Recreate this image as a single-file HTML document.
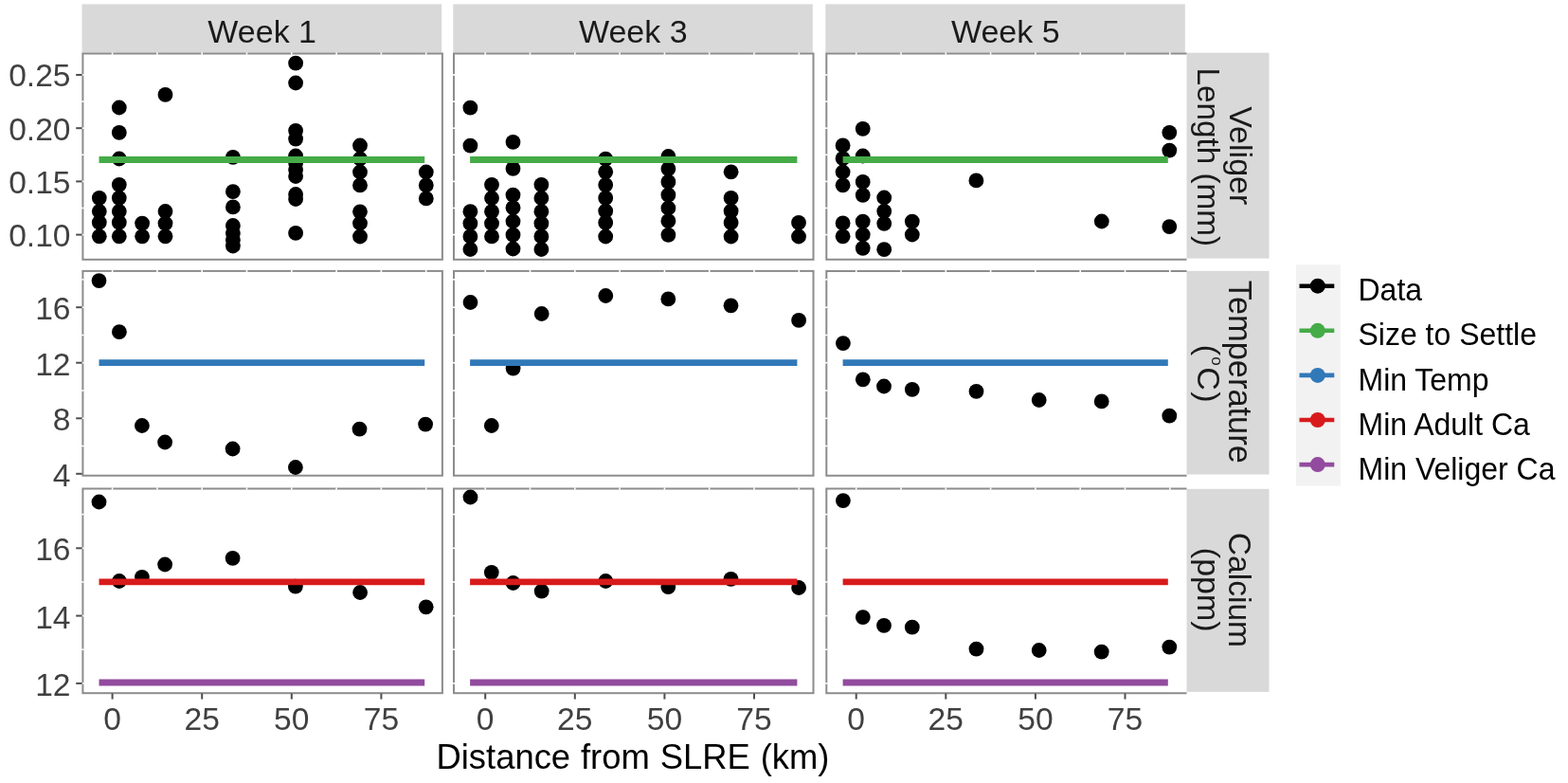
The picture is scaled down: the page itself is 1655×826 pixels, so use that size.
<!DOCTYPE html>
<html><head><meta charset="utf-8"><title>Veliger facet plot</title>
<style>html,body{margin:0;padding:0;background:#fff;}svg{display:block;}</style>
</head><body>
<svg width="1655" height="826" viewBox="0 0 1655 826" font-family='"Liberation Sans", Arial, Helvetica, sans-serif'>
<rect x="0" y="0" width="1655" height="826" fill="#ffffff"/>
<rect x="86.5" y="4.4" width="379.7" height="51.2" fill="#d9d9d9"/>
<rect x="478.3" y="4.4" width="379.5" height="51.2" fill="#d9d9d9"/>
<rect x="871.3" y="4.4" width="379.5" height="51.2" fill="#d9d9d9"/>
<rect x="1251.5" y="55.7" width="88" height="216.9" fill="#d9d9d9"/>
<rect x="1251.5" y="285.8" width="88" height="214.7" fill="#d9d9d9"/>
<rect x="1251.5" y="515.8" width="88" height="214.1" fill="#d9d9d9"/>
<rect x="87.4" y="56.5" width="379.5" height="217.3" fill="#ffffff" stroke="#8c8c8c" stroke-width="2.0"/>
<line x1="118.6" y1="55.3" x2="118.6" y2="57.7" stroke="#ffffff" stroke-width="1.6"/>
<line x1="165.9" y1="55.3" x2="165.9" y2="57.7" stroke="#ffffff" stroke-width="1.6"/>
<line x1="213.2" y1="55.3" x2="213.2" y2="57.7" stroke="#ffffff" stroke-width="1.6"/>
<line x1="260.5" y1="55.3" x2="260.5" y2="57.7" stroke="#ffffff" stroke-width="1.6"/>
<line x1="307.8" y1="55.3" x2="307.8" y2="57.7" stroke="#ffffff" stroke-width="1.6"/>
<line x1="355.1" y1="55.3" x2="355.1" y2="57.7" stroke="#ffffff" stroke-width="1.6"/>
<line x1="402.4" y1="55.3" x2="402.4" y2="57.7" stroke="#ffffff" stroke-width="1.6"/>
<line x1="449.7" y1="55.3" x2="449.7" y2="57.7" stroke="#ffffff" stroke-width="1.6"/>
<line x1="86.2" y1="79.0" x2="88.60000000000001" y2="79.0" stroke="#ffffff" stroke-width="1.6"/>
<line x1="86.2" y1="135.2" x2="88.60000000000001" y2="135.2" stroke="#ffffff" stroke-width="1.6"/>
<line x1="86.2" y1="191.4" x2="88.60000000000001" y2="191.4" stroke="#ffffff" stroke-width="1.6"/>
<line x1="86.2" y1="247.6" x2="88.60000000000001" y2="247.6" stroke="#ffffff" stroke-width="1.6"/>
<line x1="86.2" y1="107.1" x2="88.60000000000001" y2="107.1" stroke="#ffffff" stroke-width="1.6"/>
<line x1="86.2" y1="163.3" x2="88.60000000000001" y2="163.3" stroke="#ffffff" stroke-width="1.6"/>
<line x1="86.2" y1="219.5" x2="88.60000000000001" y2="219.5" stroke="#ffffff" stroke-width="1.6"/>
<circle cx="104.8" cy="208.8" r="7.9" fill="#000"/>
<circle cx="104.8" cy="223" r="7.9" fill="#000"/>
<circle cx="104.8" cy="234.7" r="7.9" fill="#000"/>
<circle cx="104.8" cy="249.3" r="7.9" fill="#000"/>
<circle cx="125.8" cy="113.5" r="7.9" fill="#000"/>
<circle cx="125.8" cy="139.9" r="7.9" fill="#000"/>
<circle cx="125.8" cy="167.5" r="7.9" fill="#000"/>
<circle cx="125.8" cy="194.8" r="7.9" fill="#000"/>
<circle cx="125.8" cy="208.8" r="7.9" fill="#000"/>
<circle cx="125.8" cy="223" r="7.9" fill="#000"/>
<circle cx="125.8" cy="234.7" r="7.9" fill="#000"/>
<circle cx="125.8" cy="249.3" r="7.9" fill="#000"/>
<circle cx="150.1" cy="235.6" r="7.9" fill="#000"/>
<circle cx="150.1" cy="249.3" r="7.9" fill="#000"/>
<circle cx="174.5" cy="99.9" r="7.9" fill="#000"/>
<circle cx="174.5" cy="223" r="7.9" fill="#000"/>
<circle cx="174.5" cy="235.6" r="7.9" fill="#000"/>
<circle cx="174.5" cy="249.3" r="7.9" fill="#000"/>
<circle cx="245.9" cy="165.8" r="7.9" fill="#000"/>
<circle cx="245.9" cy="202.2" r="7.9" fill="#000"/>
<circle cx="245.9" cy="218.4" r="7.9" fill="#000"/>
<circle cx="245.9" cy="238" r="7.9" fill="#000"/>
<circle cx="245.9" cy="246" r="7.9" fill="#000"/>
<circle cx="245.9" cy="253" r="7.9" fill="#000"/>
<circle cx="245.9" cy="259.5" r="7.9" fill="#000"/>
<circle cx="312.1" cy="66.7" r="7.9" fill="#000"/>
<circle cx="312.1" cy="87.5" r="7.9" fill="#000"/>
<circle cx="312.1" cy="137.8" r="7.9" fill="#000"/>
<circle cx="312.1" cy="146.6" r="7.9" fill="#000"/>
<circle cx="312.1" cy="164.5" r="7.9" fill="#000"/>
<circle cx="312.1" cy="172" r="7.9" fill="#000"/>
<circle cx="312.1" cy="179" r="7.9" fill="#000"/>
<circle cx="312.1" cy="186" r="7.9" fill="#000"/>
<circle cx="312.1" cy="205" r="7.9" fill="#000"/>
<circle cx="312.1" cy="210" r="7.9" fill="#000"/>
<circle cx="312.1" cy="245.9" r="7.9" fill="#000"/>
<circle cx="380.0" cy="153.5" r="7.9" fill="#000"/>
<circle cx="380.0" cy="167.5" r="7.9" fill="#000"/>
<circle cx="380.0" cy="181.5" r="7.9" fill="#000"/>
<circle cx="380.0" cy="195.4" r="7.9" fill="#000"/>
<circle cx="380.0" cy="223.3" r="7.9" fill="#000"/>
<circle cx="380.0" cy="235.5" r="7.9" fill="#000"/>
<circle cx="380.0" cy="249.5" r="7.9" fill="#000"/>
<circle cx="449.8" cy="181.5" r="7.9" fill="#000"/>
<circle cx="449.8" cy="195.4" r="7.9" fill="#000"/>
<circle cx="449.8" cy="209.4" r="7.9" fill="#000"/>
<line x1="104.5" y1="168.5" x2="448.2" y2="168.5" stroke="#45ab47" stroke-width="6.8"/>
<rect x="479.0" y="56.5" width="379.5" height="217.3" fill="#ffffff" stroke="#8c8c8c" stroke-width="2.0"/>
<line x1="512.2" y1="55.3" x2="512.2" y2="57.7" stroke="#ffffff" stroke-width="1.6"/>
<line x1="559.5" y1="55.3" x2="559.5" y2="57.7" stroke="#ffffff" stroke-width="1.6"/>
<line x1="606.8" y1="55.3" x2="606.8" y2="57.7" stroke="#ffffff" stroke-width="1.6"/>
<line x1="654.1" y1="55.3" x2="654.1" y2="57.7" stroke="#ffffff" stroke-width="1.6"/>
<line x1="701.4" y1="55.3" x2="701.4" y2="57.7" stroke="#ffffff" stroke-width="1.6"/>
<line x1="748.7" y1="55.3" x2="748.7" y2="57.7" stroke="#ffffff" stroke-width="1.6"/>
<line x1="796.0" y1="55.3" x2="796.0" y2="57.7" stroke="#ffffff" stroke-width="1.6"/>
<line x1="843.3" y1="55.3" x2="843.3" y2="57.7" stroke="#ffffff" stroke-width="1.6"/>
<line x1="477.8" y1="79.0" x2="480.2" y2="79.0" stroke="#ffffff" stroke-width="1.6"/>
<line x1="477.8" y1="135.2" x2="480.2" y2="135.2" stroke="#ffffff" stroke-width="1.6"/>
<line x1="477.8" y1="191.4" x2="480.2" y2="191.4" stroke="#ffffff" stroke-width="1.6"/>
<line x1="477.8" y1="247.6" x2="480.2" y2="247.6" stroke="#ffffff" stroke-width="1.6"/>
<line x1="477.8" y1="107.1" x2="480.2" y2="107.1" stroke="#ffffff" stroke-width="1.6"/>
<line x1="477.8" y1="163.3" x2="480.2" y2="163.3" stroke="#ffffff" stroke-width="1.6"/>
<line x1="477.8" y1="219.5" x2="480.2" y2="219.5" stroke="#ffffff" stroke-width="1.6"/>
<circle cx="496.4" cy="113.7" r="7.9" fill="#000"/>
<circle cx="496.4" cy="153.6" r="7.9" fill="#000"/>
<circle cx="496.4" cy="223.2" r="7.9" fill="#000"/>
<circle cx="496.4" cy="235.7" r="7.9" fill="#000"/>
<circle cx="496.4" cy="249.4" r="7.9" fill="#000"/>
<circle cx="496.4" cy="263" r="7.9" fill="#000"/>
<circle cx="519.0" cy="194.8" r="7.9" fill="#000"/>
<circle cx="519.0" cy="209" r="7.9" fill="#000"/>
<circle cx="519.0" cy="223.2" r="7.9" fill="#000"/>
<circle cx="519.0" cy="235.7" r="7.9" fill="#000"/>
<circle cx="519.0" cy="249.4" r="7.9" fill="#000"/>
<circle cx="541.5" cy="149.9" r="7.9" fill="#000"/>
<circle cx="541.5" cy="177.9" r="7.9" fill="#000"/>
<circle cx="541.5" cy="205.6" r="7.9" fill="#000"/>
<circle cx="541.5" cy="219.2" r="7.9" fill="#000"/>
<circle cx="541.5" cy="233.5" r="7.9" fill="#000"/>
<circle cx="541.5" cy="247.7" r="7.9" fill="#000"/>
<circle cx="541.5" cy="262.5" r="7.9" fill="#000"/>
<circle cx="571.4" cy="194.8" r="7.9" fill="#000"/>
<circle cx="571.4" cy="209" r="7.9" fill="#000"/>
<circle cx="571.4" cy="223.2" r="7.9" fill="#000"/>
<circle cx="571.4" cy="235.7" r="7.9" fill="#000"/>
<circle cx="571.4" cy="249.4" r="7.9" fill="#000"/>
<circle cx="571.4" cy="263" r="7.9" fill="#000"/>
<circle cx="639.2" cy="167.6" r="7.9" fill="#000"/>
<circle cx="639.2" cy="181.3" r="7.9" fill="#000"/>
<circle cx="639.2" cy="195.1" r="7.9" fill="#000"/>
<circle cx="639.2" cy="208.9" r="7.9" fill="#000"/>
<circle cx="639.2" cy="222.7" r="7.9" fill="#000"/>
<circle cx="639.2" cy="234.9" r="7.9" fill="#000"/>
<circle cx="639.2" cy="249.5" r="7.9" fill="#000"/>
<circle cx="705.4" cy="165" r="7.9" fill="#000"/>
<circle cx="705.4" cy="178.1" r="7.9" fill="#000"/>
<circle cx="705.4" cy="191.9" r="7.9" fill="#000"/>
<circle cx="705.4" cy="205.7" r="7.9" fill="#000"/>
<circle cx="705.4" cy="219.5" r="7.9" fill="#000"/>
<circle cx="705.4" cy="233.2" r="7.9" fill="#000"/>
<circle cx="705.4" cy="247.8" r="7.9" fill="#000"/>
<circle cx="771.6" cy="181.3" r="7.9" fill="#000"/>
<circle cx="771.6" cy="208.9" r="7.9" fill="#000"/>
<circle cx="771.6" cy="222.7" r="7.9" fill="#000"/>
<circle cx="771.6" cy="234.9" r="7.9" fill="#000"/>
<circle cx="771.6" cy="249.5" r="7.9" fill="#000"/>
<circle cx="843.0" cy="234.9" r="7.9" fill="#000"/>
<circle cx="843.0" cy="249.5" r="7.9" fill="#000"/>
<line x1="496.1" y1="168.5" x2="841.4" y2="168.5" stroke="#45ab47" stroke-width="6.8"/>
<path d="M1252.5,56.5 H872.3 V273.8 H1252.5" fill="#ffffff" stroke="#8c8c8c" stroke-width="2.0"/>
<line x1="903.7" y1="55.3" x2="903.7" y2="57.7" stroke="#ffffff" stroke-width="1.6"/>
<line x1="951.0" y1="55.3" x2="951.0" y2="57.7" stroke="#ffffff" stroke-width="1.6"/>
<line x1="998.3" y1="55.3" x2="998.3" y2="57.7" stroke="#ffffff" stroke-width="1.6"/>
<line x1="1045.6" y1="55.3" x2="1045.6" y2="57.7" stroke="#ffffff" stroke-width="1.6"/>
<line x1="1092.9" y1="55.3" x2="1092.9" y2="57.7" stroke="#ffffff" stroke-width="1.6"/>
<line x1="1140.2" y1="55.3" x2="1140.2" y2="57.7" stroke="#ffffff" stroke-width="1.6"/>
<line x1="1187.5" y1="55.3" x2="1187.5" y2="57.7" stroke="#ffffff" stroke-width="1.6"/>
<line x1="1234.8" y1="55.3" x2="1234.8" y2="57.7" stroke="#ffffff" stroke-width="1.6"/>
<line x1="871.0999999999999" y1="79.0" x2="873.5" y2="79.0" stroke="#ffffff" stroke-width="1.6"/>
<line x1="871.0999999999999" y1="135.2" x2="873.5" y2="135.2" stroke="#ffffff" stroke-width="1.6"/>
<line x1="871.0999999999999" y1="191.4" x2="873.5" y2="191.4" stroke="#ffffff" stroke-width="1.6"/>
<line x1="871.0999999999999" y1="247.6" x2="873.5" y2="247.6" stroke="#ffffff" stroke-width="1.6"/>
<line x1="871.0999999999999" y1="107.1" x2="873.5" y2="107.1" stroke="#ffffff" stroke-width="1.6"/>
<line x1="871.0999999999999" y1="163.3" x2="873.5" y2="163.3" stroke="#ffffff" stroke-width="1.6"/>
<line x1="871.0999999999999" y1="219.5" x2="873.5" y2="219.5" stroke="#ffffff" stroke-width="1.6"/>
<circle cx="889.6" cy="153.4" r="7.9" fill="#000"/>
<circle cx="889.6" cy="167.2" r="7.9" fill="#000"/>
<circle cx="889.6" cy="181.5" r="7.9" fill="#000"/>
<circle cx="889.6" cy="195.3" r="7.9" fill="#000"/>
<circle cx="889.6" cy="235.4" r="7.9" fill="#000"/>
<circle cx="889.6" cy="249.3" r="7.9" fill="#000"/>
<circle cx="910.7" cy="135.8" r="7.9" fill="#000"/>
<circle cx="910.7" cy="164.5" r="7.9" fill="#000"/>
<circle cx="910.7" cy="191.9" r="7.9" fill="#000"/>
<circle cx="910.7" cy="205.8" r="7.9" fill="#000"/>
<circle cx="910.7" cy="233.6" r="7.9" fill="#000"/>
<circle cx="910.7" cy="247.5" r="7.9" fill="#000"/>
<circle cx="910.7" cy="261.8" r="7.9" fill="#000"/>
<circle cx="933.2" cy="208.5" r="7.9" fill="#000"/>
<circle cx="933.2" cy="222.8" r="7.9" fill="#000"/>
<circle cx="933.2" cy="235.8" r="7.9" fill="#000"/>
<circle cx="933.2" cy="263.2" r="7.9" fill="#000"/>
<circle cx="962.8" cy="233.6" r="7.9" fill="#000"/>
<circle cx="962.8" cy="247.5" r="7.9" fill="#000"/>
<circle cx="1030.4" cy="190.4" r="7.9" fill="#000"/>
<circle cx="1162.8" cy="233.5" r="7.9" fill="#000"/>
<circle cx="1234.3" cy="139.8" r="7.9" fill="#000"/>
<circle cx="1234.3" cy="158.6" r="7.9" fill="#000"/>
<circle cx="1234.3" cy="239.1" r="7.9" fill="#000"/>
<line x1="889.6" y1="168.5" x2="1232.8" y2="168.5" stroke="#45ab47" stroke-width="6.8"/>
<rect x="87.4" y="285.9" width="379.5" height="215.8" fill="#ffffff" stroke="#8c8c8c" stroke-width="2.0"/>
<line x1="118.6" y1="284.7" x2="118.6" y2="287.09999999999997" stroke="#ffffff" stroke-width="1.6"/>
<line x1="165.9" y1="284.7" x2="165.9" y2="287.09999999999997" stroke="#ffffff" stroke-width="1.6"/>
<line x1="213.2" y1="284.7" x2="213.2" y2="287.09999999999997" stroke="#ffffff" stroke-width="1.6"/>
<line x1="260.5" y1="284.7" x2="260.5" y2="287.09999999999997" stroke="#ffffff" stroke-width="1.6"/>
<line x1="307.8" y1="284.7" x2="307.8" y2="287.09999999999997" stroke="#ffffff" stroke-width="1.6"/>
<line x1="355.1" y1="284.7" x2="355.1" y2="287.09999999999997" stroke="#ffffff" stroke-width="1.6"/>
<line x1="402.4" y1="284.7" x2="402.4" y2="287.09999999999997" stroke="#ffffff" stroke-width="1.6"/>
<line x1="449.7" y1="284.7" x2="449.7" y2="287.09999999999997" stroke="#ffffff" stroke-width="1.6"/>
<line x1="86.2" y1="324.2" x2="88.60000000000001" y2="324.2" stroke="#ffffff" stroke-width="1.6"/>
<line x1="86.2" y1="382.7" x2="88.60000000000001" y2="382.7" stroke="#ffffff" stroke-width="1.6"/>
<line x1="86.2" y1="441.3" x2="88.60000000000001" y2="441.3" stroke="#ffffff" stroke-width="1.6"/>
<line x1="86.2" y1="294.9" x2="88.60000000000001" y2="294.9" stroke="#ffffff" stroke-width="1.6"/>
<line x1="86.2" y1="353.5" x2="88.60000000000001" y2="353.5" stroke="#ffffff" stroke-width="1.6"/>
<line x1="86.2" y1="412.0" x2="88.60000000000001" y2="412.0" stroke="#ffffff" stroke-width="1.6"/>
<line x1="86.2" y1="470.5" x2="88.60000000000001" y2="470.5" stroke="#ffffff" stroke-width="1.6"/>
<circle cx="104.5" cy="296.1" r="7.9" fill="#000"/>
<circle cx="125.9" cy="350.2" r="7.9" fill="#000"/>
<circle cx="149.9" cy="449" r="7.9" fill="#000"/>
<circle cx="174.1" cy="466.5" r="7.9" fill="#000"/>
<circle cx="245.6" cy="473.5" r="7.9" fill="#000"/>
<circle cx="311.9" cy="493" r="7.9" fill="#000"/>
<circle cx="379.5" cy="452.6" r="7.9" fill="#000"/>
<circle cx="449.1" cy="447.6" r="7.9" fill="#000"/>
<line x1="104.5" y1="382.6" x2="448.2" y2="382.6" stroke="#3178b8" stroke-width="6.8"/>
<rect x="479.0" y="285.9" width="379.5" height="215.8" fill="#ffffff" stroke="#8c8c8c" stroke-width="2.0"/>
<line x1="512.2" y1="284.7" x2="512.2" y2="287.09999999999997" stroke="#ffffff" stroke-width="1.6"/>
<line x1="559.5" y1="284.7" x2="559.5" y2="287.09999999999997" stroke="#ffffff" stroke-width="1.6"/>
<line x1="606.8" y1="284.7" x2="606.8" y2="287.09999999999997" stroke="#ffffff" stroke-width="1.6"/>
<line x1="654.1" y1="284.7" x2="654.1" y2="287.09999999999997" stroke="#ffffff" stroke-width="1.6"/>
<line x1="701.4" y1="284.7" x2="701.4" y2="287.09999999999997" stroke="#ffffff" stroke-width="1.6"/>
<line x1="748.7" y1="284.7" x2="748.7" y2="287.09999999999997" stroke="#ffffff" stroke-width="1.6"/>
<line x1="796.0" y1="284.7" x2="796.0" y2="287.09999999999997" stroke="#ffffff" stroke-width="1.6"/>
<line x1="843.3" y1="284.7" x2="843.3" y2="287.09999999999997" stroke="#ffffff" stroke-width="1.6"/>
<line x1="477.8" y1="324.2" x2="480.2" y2="324.2" stroke="#ffffff" stroke-width="1.6"/>
<line x1="477.8" y1="382.7" x2="480.2" y2="382.7" stroke="#ffffff" stroke-width="1.6"/>
<line x1="477.8" y1="441.3" x2="480.2" y2="441.3" stroke="#ffffff" stroke-width="1.6"/>
<line x1="477.8" y1="294.9" x2="480.2" y2="294.9" stroke="#ffffff" stroke-width="1.6"/>
<line x1="477.8" y1="353.5" x2="480.2" y2="353.5" stroke="#ffffff" stroke-width="1.6"/>
<line x1="477.8" y1="412.0" x2="480.2" y2="412.0" stroke="#ffffff" stroke-width="1.6"/>
<line x1="477.8" y1="470.5" x2="480.2" y2="470.5" stroke="#ffffff" stroke-width="1.6"/>
<circle cx="496.5" cy="319" r="7.9" fill="#000"/>
<circle cx="518.8" cy="449" r="7.9" fill="#000"/>
<circle cx="541.6" cy="388.6" r="7.9" fill="#000"/>
<circle cx="571.7" cy="331" r="7.9" fill="#000"/>
<circle cx="639.3" cy="312" r="7.9" fill="#000"/>
<circle cx="705.3" cy="315.4" r="7.9" fill="#000"/>
<circle cx="771.5" cy="322.3" r="7.9" fill="#000"/>
<circle cx="843.1" cy="337.9" r="7.9" fill="#000"/>
<line x1="496.1" y1="382.6" x2="841.4" y2="382.6" stroke="#3178b8" stroke-width="6.8"/>
<path d="M1252.5,285.9 H872.3 V501.7 H1252.5" fill="#ffffff" stroke="#8c8c8c" stroke-width="2.0"/>
<line x1="903.7" y1="284.7" x2="903.7" y2="287.09999999999997" stroke="#ffffff" stroke-width="1.6"/>
<line x1="951.0" y1="284.7" x2="951.0" y2="287.09999999999997" stroke="#ffffff" stroke-width="1.6"/>
<line x1="998.3" y1="284.7" x2="998.3" y2="287.09999999999997" stroke="#ffffff" stroke-width="1.6"/>
<line x1="1045.6" y1="284.7" x2="1045.6" y2="287.09999999999997" stroke="#ffffff" stroke-width="1.6"/>
<line x1="1092.9" y1="284.7" x2="1092.9" y2="287.09999999999997" stroke="#ffffff" stroke-width="1.6"/>
<line x1="1140.2" y1="284.7" x2="1140.2" y2="287.09999999999997" stroke="#ffffff" stroke-width="1.6"/>
<line x1="1187.5" y1="284.7" x2="1187.5" y2="287.09999999999997" stroke="#ffffff" stroke-width="1.6"/>
<line x1="1234.8" y1="284.7" x2="1234.8" y2="287.09999999999997" stroke="#ffffff" stroke-width="1.6"/>
<line x1="871.0999999999999" y1="324.2" x2="873.5" y2="324.2" stroke="#ffffff" stroke-width="1.6"/>
<line x1="871.0999999999999" y1="382.7" x2="873.5" y2="382.7" stroke="#ffffff" stroke-width="1.6"/>
<line x1="871.0999999999999" y1="441.3" x2="873.5" y2="441.3" stroke="#ffffff" stroke-width="1.6"/>
<line x1="871.0999999999999" y1="294.9" x2="873.5" y2="294.9" stroke="#ffffff" stroke-width="1.6"/>
<line x1="871.0999999999999" y1="353.5" x2="873.5" y2="353.5" stroke="#ffffff" stroke-width="1.6"/>
<line x1="871.0999999999999" y1="412.0" x2="873.5" y2="412.0" stroke="#ffffff" stroke-width="1.6"/>
<line x1="871.0999999999999" y1="470.5" x2="873.5" y2="470.5" stroke="#ffffff" stroke-width="1.6"/>
<circle cx="889.9" cy="362.1" r="7.9" fill="#000"/>
<circle cx="910.8" cy="400.3" r="7.9" fill="#000"/>
<circle cx="933.0" cy="407.5" r="7.9" fill="#000"/>
<circle cx="962.8" cy="410.8" r="7.9" fill="#000"/>
<circle cx="1030.5" cy="412.8" r="7.9" fill="#000"/>
<circle cx="1096.7" cy="422" r="7.9" fill="#000"/>
<circle cx="1162.7" cy="423.4" r="7.9" fill="#000"/>
<circle cx="1234.3" cy="438.7" r="7.9" fill="#000"/>
<line x1="889.6" y1="382.6" x2="1232.8" y2="382.6" stroke="#3178b8" stroke-width="6.8"/>
<rect x="87.4" y="515.5" width="379.5" height="215.7" fill="#ffffff" stroke="#8c8c8c" stroke-width="2.0"/>
<line x1="118.6" y1="514.3" x2="118.6" y2="516.7" stroke="#ffffff" stroke-width="1.6"/>
<line x1="165.9" y1="514.3" x2="165.9" y2="516.7" stroke="#ffffff" stroke-width="1.6"/>
<line x1="213.2" y1="514.3" x2="213.2" y2="516.7" stroke="#ffffff" stroke-width="1.6"/>
<line x1="260.5" y1="514.3" x2="260.5" y2="516.7" stroke="#ffffff" stroke-width="1.6"/>
<line x1="307.8" y1="514.3" x2="307.8" y2="516.7" stroke="#ffffff" stroke-width="1.6"/>
<line x1="355.1" y1="514.3" x2="355.1" y2="516.7" stroke="#ffffff" stroke-width="1.6"/>
<line x1="402.4" y1="514.3" x2="402.4" y2="516.7" stroke="#ffffff" stroke-width="1.6"/>
<line x1="449.7" y1="514.3" x2="449.7" y2="516.7" stroke="#ffffff" stroke-width="1.6"/>
<line x1="86.2" y1="578.3" x2="88.60000000000001" y2="578.3" stroke="#ffffff" stroke-width="1.6"/>
<line x1="86.2" y1="649.6" x2="88.60000000000001" y2="649.6" stroke="#ffffff" stroke-width="1.6"/>
<line x1="86.2" y1="720.9" x2="88.60000000000001" y2="720.9" stroke="#ffffff" stroke-width="1.6"/>
<line x1="86.2" y1="542.6" x2="88.60000000000001" y2="542.6" stroke="#ffffff" stroke-width="1.6"/>
<line x1="86.2" y1="613.9" x2="88.60000000000001" y2="613.9" stroke="#ffffff" stroke-width="1.6"/>
<line x1="86.2" y1="685.2" x2="88.60000000000001" y2="685.2" stroke="#ffffff" stroke-width="1.6"/>
<circle cx="104.5" cy="529.5" r="7.9" fill="#000"/>
<circle cx="125.9" cy="613" r="7.9" fill="#000"/>
<circle cx="149.9" cy="608.8" r="7.9" fill="#000"/>
<circle cx="174.1" cy="595.5" r="7.9" fill="#000"/>
<circle cx="245.6" cy="588.8" r="7.9" fill="#000"/>
<circle cx="311.9" cy="618.6" r="7.9" fill="#000"/>
<circle cx="380.1" cy="625" r="7.9" fill="#000"/>
<circle cx="449.7" cy="640.3" r="7.9" fill="#000"/>
<line x1="104.5" y1="613.8" x2="448.2" y2="613.8" stroke="#d81a1c" stroke-width="6.8"/>
<line x1="104.5" y1="720.0" x2="448.2" y2="720.0" stroke="#924b9e" stroke-width="6.8"/>
<rect x="479.0" y="515.5" width="379.5" height="215.7" fill="#ffffff" stroke="#8c8c8c" stroke-width="2.0"/>
<line x1="512.2" y1="514.3" x2="512.2" y2="516.7" stroke="#ffffff" stroke-width="1.6"/>
<line x1="559.5" y1="514.3" x2="559.5" y2="516.7" stroke="#ffffff" stroke-width="1.6"/>
<line x1="606.8" y1="514.3" x2="606.8" y2="516.7" stroke="#ffffff" stroke-width="1.6"/>
<line x1="654.1" y1="514.3" x2="654.1" y2="516.7" stroke="#ffffff" stroke-width="1.6"/>
<line x1="701.4" y1="514.3" x2="701.4" y2="516.7" stroke="#ffffff" stroke-width="1.6"/>
<line x1="748.7" y1="514.3" x2="748.7" y2="516.7" stroke="#ffffff" stroke-width="1.6"/>
<line x1="796.0" y1="514.3" x2="796.0" y2="516.7" stroke="#ffffff" stroke-width="1.6"/>
<line x1="843.3" y1="514.3" x2="843.3" y2="516.7" stroke="#ffffff" stroke-width="1.6"/>
<line x1="477.8" y1="578.3" x2="480.2" y2="578.3" stroke="#ffffff" stroke-width="1.6"/>
<line x1="477.8" y1="649.6" x2="480.2" y2="649.6" stroke="#ffffff" stroke-width="1.6"/>
<line x1="477.8" y1="720.9" x2="480.2" y2="720.9" stroke="#ffffff" stroke-width="1.6"/>
<line x1="477.8" y1="542.6" x2="480.2" y2="542.6" stroke="#ffffff" stroke-width="1.6"/>
<line x1="477.8" y1="613.9" x2="480.2" y2="613.9" stroke="#ffffff" stroke-width="1.6"/>
<line x1="477.8" y1="685.2" x2="480.2" y2="685.2" stroke="#ffffff" stroke-width="1.6"/>
<circle cx="496.5" cy="524.5" r="7.9" fill="#000"/>
<circle cx="518.8" cy="603.8" r="7.9" fill="#000"/>
<circle cx="541.6" cy="615" r="7.9" fill="#000"/>
<circle cx="571.7" cy="623.6" r="7.9" fill="#000"/>
<circle cx="639.3" cy="613" r="7.9" fill="#000"/>
<circle cx="705.3" cy="619.1" r="7.9" fill="#000"/>
<circle cx="771.5" cy="610.8" r="7.9" fill="#000"/>
<circle cx="843.1" cy="620" r="7.9" fill="#000"/>
<line x1="496.1" y1="613.8" x2="841.4" y2="613.8" stroke="#d81a1c" stroke-width="6.8"/>
<line x1="496.1" y1="720.0" x2="841.4" y2="720.0" stroke="#924b9e" stroke-width="6.8"/>
<path d="M1252.5,515.5 H872.3 V731.2 H1252.5" fill="#ffffff" stroke="#8c8c8c" stroke-width="2.0"/>
<line x1="903.7" y1="514.3" x2="903.7" y2="516.7" stroke="#ffffff" stroke-width="1.6"/>
<line x1="951.0" y1="514.3" x2="951.0" y2="516.7" stroke="#ffffff" stroke-width="1.6"/>
<line x1="998.3" y1="514.3" x2="998.3" y2="516.7" stroke="#ffffff" stroke-width="1.6"/>
<line x1="1045.6" y1="514.3" x2="1045.6" y2="516.7" stroke="#ffffff" stroke-width="1.6"/>
<line x1="1092.9" y1="514.3" x2="1092.9" y2="516.7" stroke="#ffffff" stroke-width="1.6"/>
<line x1="1140.2" y1="514.3" x2="1140.2" y2="516.7" stroke="#ffffff" stroke-width="1.6"/>
<line x1="1187.5" y1="514.3" x2="1187.5" y2="516.7" stroke="#ffffff" stroke-width="1.6"/>
<line x1="1234.8" y1="514.3" x2="1234.8" y2="516.7" stroke="#ffffff" stroke-width="1.6"/>
<line x1="871.0999999999999" y1="578.3" x2="873.5" y2="578.3" stroke="#ffffff" stroke-width="1.6"/>
<line x1="871.0999999999999" y1="649.6" x2="873.5" y2="649.6" stroke="#ffffff" stroke-width="1.6"/>
<line x1="871.0999999999999" y1="720.9" x2="873.5" y2="720.9" stroke="#ffffff" stroke-width="1.6"/>
<line x1="871.0999999999999" y1="542.6" x2="873.5" y2="542.6" stroke="#ffffff" stroke-width="1.6"/>
<line x1="871.0999999999999" y1="613.9" x2="873.5" y2="613.9" stroke="#ffffff" stroke-width="1.6"/>
<line x1="871.0999999999999" y1="685.2" x2="873.5" y2="685.2" stroke="#ffffff" stroke-width="1.6"/>
<circle cx="889.9" cy="528.1" r="7.9" fill="#000"/>
<circle cx="910.8" cy="651.1" r="7.9" fill="#000"/>
<circle cx="933.0" cy="659.8" r="7.9" fill="#000"/>
<circle cx="962.8" cy="661.7" r="7.9" fill="#000"/>
<circle cx="1030.5" cy="684.6" r="7.9" fill="#000"/>
<circle cx="1096.7" cy="686" r="7.9" fill="#000"/>
<circle cx="1162.7" cy="687.6" r="7.9" fill="#000"/>
<circle cx="1234.3" cy="682.6" r="7.9" fill="#000"/>
<line x1="889.6" y1="613.8" x2="1232.8" y2="613.8" stroke="#d81a1c" stroke-width="6.8"/>
<line x1="889.6" y1="720.0" x2="1232.8" y2="720.0" stroke="#924b9e" stroke-width="6.8"/>
<line x1="80.2" y1="79.0" x2="86.6" y2="79.0" stroke="#4d4d4d" stroke-width="2"/>
<text x="74.5" y="91.3" font-size="33.6" fill="#404040" text-anchor="end">0.25</text>
<line x1="80.2" y1="135.2" x2="86.6" y2="135.2" stroke="#4d4d4d" stroke-width="2"/>
<text x="74.5" y="147.5" font-size="33.6" fill="#404040" text-anchor="end">0.20</text>
<line x1="80.2" y1="191.4" x2="86.6" y2="191.4" stroke="#4d4d4d" stroke-width="2"/>
<text x="74.5" y="203.7" font-size="33.6" fill="#404040" text-anchor="end">0.15</text>
<line x1="80.2" y1="247.6" x2="86.6" y2="247.6" stroke="#4d4d4d" stroke-width="2"/>
<text x="74.5" y="259.9" font-size="33.6" fill="#404040" text-anchor="end">0.10</text>
<line x1="80.2" y1="324.2" x2="86.6" y2="324.2" stroke="#4d4d4d" stroke-width="2"/>
<text x="74.5" y="337.1" font-size="33.6" fill="#404040" text-anchor="end">16</text>
<line x1="80.2" y1="382.7" x2="86.6" y2="382.7" stroke="#4d4d4d" stroke-width="2"/>
<text x="74.5" y="395.6" font-size="33.6" fill="#404040" text-anchor="end">12</text>
<line x1="80.2" y1="441.3" x2="86.6" y2="441.3" stroke="#4d4d4d" stroke-width="2"/>
<text x="74.5" y="454.2" font-size="33.6" fill="#404040" text-anchor="end">8</text>
<line x1="80.2" y1="499.8" x2="86.6" y2="499.8" stroke="#4d4d4d" stroke-width="2"/>
<text x="74.5" y="512.7" font-size="33.6" fill="#404040" text-anchor="end">4</text>
<line x1="80.2" y1="578.3" x2="86.6" y2="578.3" stroke="#4d4d4d" stroke-width="2"/>
<text x="74.5" y="591.2" font-size="33.6" fill="#404040" text-anchor="end">16</text>
<line x1="80.2" y1="649.6" x2="86.6" y2="649.6" stroke="#4d4d4d" stroke-width="2"/>
<text x="74.5" y="662.5" font-size="33.6" fill="#404040" text-anchor="end">14</text>
<line x1="80.2" y1="720.9" x2="86.6" y2="720.9" stroke="#4d4d4d" stroke-width="2"/>
<text x="74.5" y="733.8" font-size="33.6" fill="#404040" text-anchor="end">12</text>
<line x1="118.6" y1="731.5" x2="118.6" y2="737.6" stroke="#4d4d4d" stroke-width="2"/>
<text x="118.6" y="769.5" font-size="33.6" fill="#404040" text-anchor="middle">0</text>
<line x1="213.2" y1="731.5" x2="213.2" y2="737.6" stroke="#4d4d4d" stroke-width="2"/>
<text x="213.2" y="769.5" font-size="33.6" fill="#404040" text-anchor="middle">25</text>
<line x1="307.8" y1="731.5" x2="307.8" y2="737.6" stroke="#4d4d4d" stroke-width="2"/>
<text x="307.8" y="769.5" font-size="33.6" fill="#404040" text-anchor="middle">50</text>
<line x1="402.4" y1="731.5" x2="402.4" y2="737.6" stroke="#4d4d4d" stroke-width="2"/>
<text x="402.4" y="769.5" font-size="33.6" fill="#404040" text-anchor="middle">75</text>
<line x1="512.2" y1="731.5" x2="512.2" y2="737.6" stroke="#4d4d4d" stroke-width="2"/>
<text x="512.2" y="769.5" font-size="33.6" fill="#404040" text-anchor="middle">0</text>
<line x1="606.8" y1="731.5" x2="606.8" y2="737.6" stroke="#4d4d4d" stroke-width="2"/>
<text x="606.8" y="769.5" font-size="33.6" fill="#404040" text-anchor="middle">25</text>
<line x1="701.4" y1="731.5" x2="701.4" y2="737.6" stroke="#4d4d4d" stroke-width="2"/>
<text x="701.4" y="769.5" font-size="33.6" fill="#404040" text-anchor="middle">50</text>
<line x1="796.0" y1="731.5" x2="796.0" y2="737.6" stroke="#4d4d4d" stroke-width="2"/>
<text x="796.0" y="769.5" font-size="33.6" fill="#404040" text-anchor="middle">75</text>
<line x1="903.7" y1="731.5" x2="903.7" y2="737.6" stroke="#4d4d4d" stroke-width="2"/>
<text x="903.7" y="769.5" font-size="33.6" fill="#404040" text-anchor="middle">0</text>
<line x1="998.3" y1="731.5" x2="998.3" y2="737.6" stroke="#4d4d4d" stroke-width="2"/>
<text x="998.3" y="769.5" font-size="33.6" fill="#404040" text-anchor="middle">25</text>
<line x1="1092.9" y1="731.5" x2="1092.9" y2="737.6" stroke="#4d4d4d" stroke-width="2"/>
<text x="1092.9" y="769.5" font-size="33.6" fill="#404040" text-anchor="middle">50</text>
<line x1="1187.5" y1="731.5" x2="1187.5" y2="737.6" stroke="#4d4d4d" stroke-width="2"/>
<text x="1187.5" y="769.5" font-size="33.6" fill="#404040" text-anchor="middle">75</text>
<text x="276.7" y="44.6" font-size="34" fill="#1a1a1a" text-anchor="middle">Week 1</text>
<text x="668.3" y="44.6" font-size="34" fill="#1a1a1a" text-anchor="middle">Week 3</text>
<text x="1061.3" y="44.6" font-size="34" fill="#1a1a1a" text-anchor="middle">Week 5</text>
<text transform="translate(1297.5,164.3) rotate(90)" x="0" y="0" font-size="34" fill="#1a1a1a" text-anchor="middle">Veliger</text>
<text transform="translate(1263.5,165.8) rotate(90)" x="0" y="0" font-size="33.3" fill="#1a1a1a" text-anchor="middle">Length (mm)</text>
<text transform="translate(1297.0,392.3) rotate(90)" x="0" y="0" font-size="34.4" fill="#1a1a1a" text-anchor="middle">Temperature</text>
<text transform="translate(1263.5,394.2) rotate(90)" x="0" y="0" font-size="34" fill="#1a1a1a" text-anchor="middle">(<tspan font-size="17" dx="1.2" dy="-15.2">o</tspan><tspan dx="1.5" dy="15.2">C</tspan><tspan dx="1.5">)</tspan></text>
<text transform="translate(1297.0,622.4) rotate(90)" x="0" y="0" font-size="33.6" fill="#1a1a1a" text-anchor="middle">Calcium</text>
<text transform="translate(1263.5,622.2) rotate(90)" x="0" y="0" font-size="34" fill="#1a1a1a" text-anchor="middle">(ppm)</text>
<text x="460.5" y="810.5" font-size="36.4" fill="#000" word-spacing="0.8">Distance from SLRE (km)</text>
<rect x="1367.8" y="279.3" width="47" height="233.2" fill="#f2f2f2"/>
<line x1="1371.5" y1="301.7" x2="1408.3" y2="301.7" stroke="#000" stroke-width="4.6"/>
<circle cx="1390.8" cy="301.7" r="8" fill="#000"/>
<text transform="translate(1433.5,317.3) scale(1,1.04)" font-size="32" fill="#000">Data</text>
<line x1="1371.5" y1="348.8" x2="1408.3" y2="348.8" stroke="#45ab47" stroke-width="4.6"/>
<circle cx="1390.8" cy="348.8" r="8" fill="#45ab47"/>
<text transform="translate(1433.5,364.4) scale(1,1.04)" font-size="32" fill="#000">Size to Settle</text>
<line x1="1371.5" y1="395.9" x2="1408.3" y2="395.9" stroke="#3178b8" stroke-width="4.6"/>
<circle cx="1390.8" cy="395.9" r="8" fill="#3178b8"/>
<text transform="translate(1433.5,411.5) scale(1,1.04)" font-size="32" fill="#000">Min Temp</text>
<line x1="1371.5" y1="443.0" x2="1408.3" y2="443.0" stroke="#d81a1c" stroke-width="4.6"/>
<circle cx="1390.8" cy="443.0" r="8" fill="#d81a1c"/>
<text transform="translate(1433.5,458.6) scale(1,1.04)" font-size="32" fill="#000">Min Adult Ca</text>
<line x1="1371.5" y1="490.1" x2="1408.3" y2="490.1" stroke="#924b9e" stroke-width="4.6"/>
<circle cx="1390.8" cy="490.1" r="8" fill="#924b9e"/>
<text transform="translate(1433.5,505.7) scale(1,1.04)" font-size="32" fill="#000">Min Veliger Ca</text>
</svg>
</body></html>
